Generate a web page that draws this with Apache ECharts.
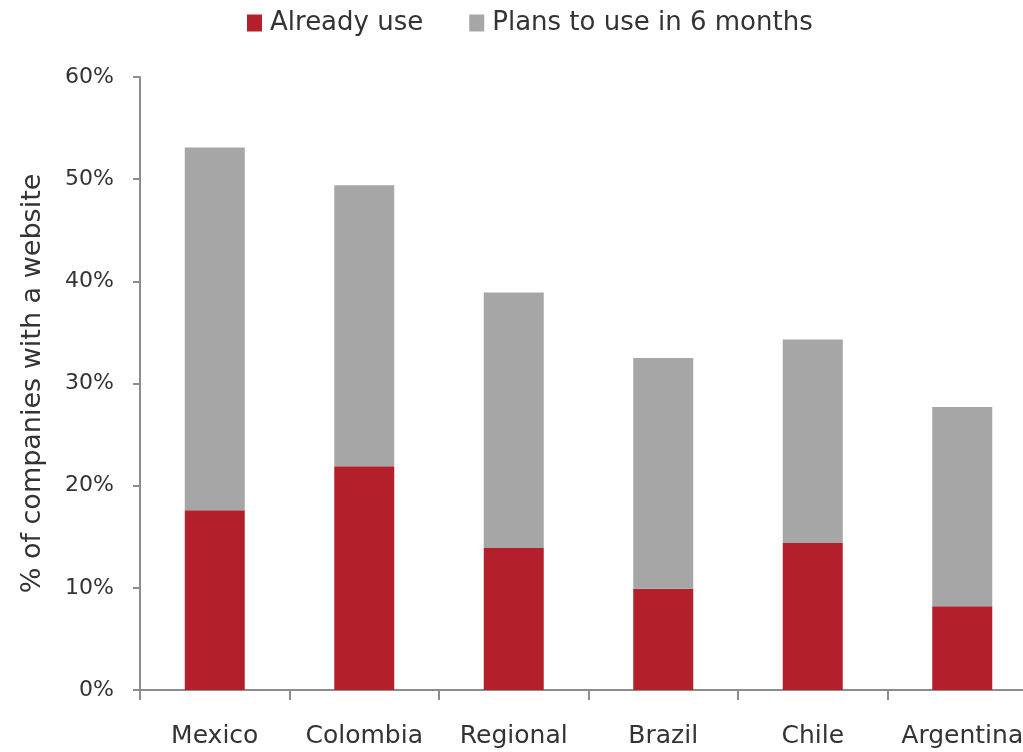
<!DOCTYPE html>
<html>
<head>
<meta charset="utf-8">
<script src="https://cdn.jsdelivr.net/npm/echarts@6/dist/echarts.min.js"></script>
<style>
  html, body { margin: 0; padding: 0; background: #fff; }
  #chart { width: 1023px; height: 752px; }
</style>
</head>
<body>
<div id="chart"></div>
<script>
// countries along the x axis
var countries = ['Mexico', 'Colombia', 'Regional', 'Brazil', 'Chile', 'Argentina'];
// % of companies
var alreadyUse = [17.6, 21.9, 13.9, 9.9, 14.4, 8.2];
var plansToUse = [35.5, 27.5, 25.0, 22.6, 19.9, 19.5];

var chart = echarts.init(document.getElementById('chart'));
var font = '"DejaVu Sans", sans-serif';

var option = {
  backgroundColor: '#ffffff',
  color: ['#b3202c', '#a6a6a6'],
  textStyle: { fontFamily: font },
  legend: {
    top: 5,
    left: 242,
    itemWidth: 15,
    itemHeight: 17,
    itemGap: 46,
    icon: 'rect',
    textStyle: { fontSize: 26, color: '#333', fontFamily: font, padding: [0, 0, 0, 3] },
    data: ['Already use', 'Plans to use in 6 months']
  },
  grid: {
    left: 140,
    top: 77,
    width: 897,
    bottom: 62,
    containLabel: false,
    outerBoundsMode: 'none'
  },
  xAxis: {
    type: 'category',
    data: countries,
    axisLine: { lineStyle: { color: '#8c8c8c', width: 2 } },
    axisTick: { show: true, length: 10, lineStyle: { color: '#8c8c8c', width: 2 } },
    axisLabel: { interval: 0, fontSize: 25, color: '#333', margin: 34, fontFamily: font }
  },
  yAxis: {
    type: 'value',
    min: 0,
    max: 60,
    interval: 10,
    name: '% of companies with a website',
    nameLocation: 'middle',
    nameGap: 94,
    nameTextStyle: { fontSize: 27, color: '#333', fontFamily: font },
    axisLine: { show: true, lineStyle: { color: '#8c8c8c', width: 2 } },
    axisTick: { show: true, length: 7, lineStyle: { color: '#8c8c8c', width: 2 } },
    axisLabel: { fontSize: 22, color: '#333', margin: 26, formatter: '{value}%', fontFamily: font },
    splitLine: { show: false }
  },
  series: [
    {
      name: 'Already use',
      type: 'bar',
      stack: 'total',
      barWidth: 60,
      data: alreadyUse
    },
    {
      name: 'Plans to use in 6 months',
      type: 'bar',
      stack: 'total',
      barWidth: 60,
      data: plansToUse
    }
  ]
};

chart.setOption(option);
</script>
</body>
</html>
